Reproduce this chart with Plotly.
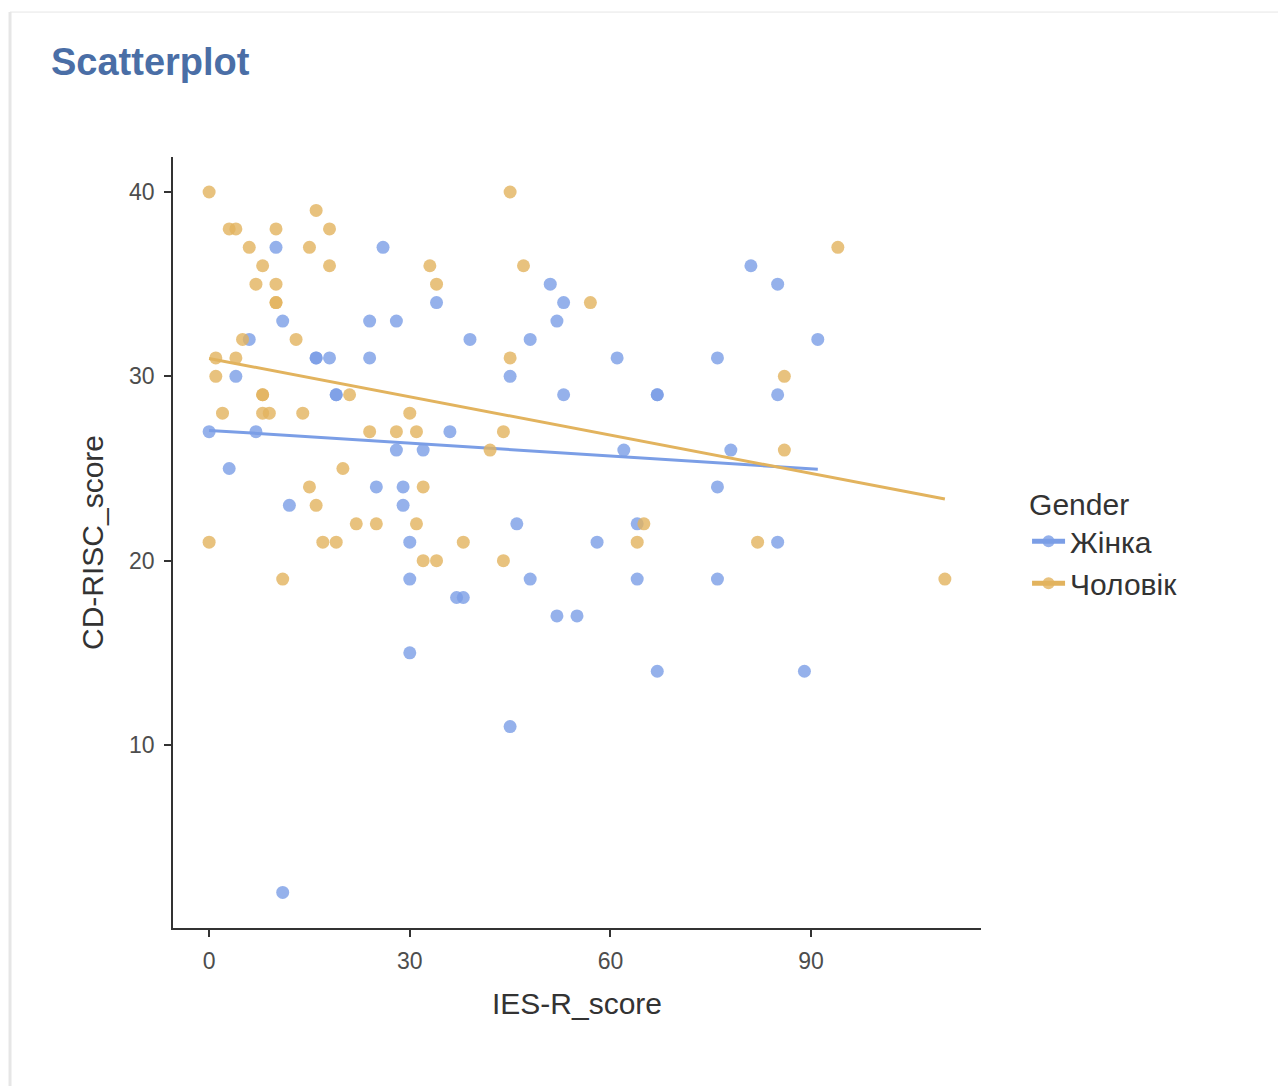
import numpy as np
import plotly.graph_objects as go

# Data
female_x = [0, 7, 10, 26, 11, 24, 28, 6, 16, 16, 18, 24, 4, 19, 19, 36, 28, 32, 3, 25, 29, 12, 29, 30, 30, 37, 38, 30, 11,
            51, 34, 53, 52, 39, 48, 61, 76, 45, 53, 67, 67, 62, 78, 76, 46, 64, 58, 48, 64, 76, 52, 55, 67, 45,
            81, 85, 91, 85, 85, 89]
female_y = [27, 27, 37, 37, 33, 33, 33, 32, 31, 31, 31, 31, 30, 29, 29, 27, 26, 26, 25, 24, 24, 23, 23, 21, 19, 18, 18, 15, 2,
            35, 34, 34, 33, 32, 32, 31, 31, 30, 29, 29, 29, 26, 26, 24, 22, 22, 21, 19, 19, 19, 17, 17, 14, 11,
            36, 35, 32, 29, 21, 14]

male_x = [0, 3, 4, 10, 16, 18, 6, 15, 8, 18, 7, 10, 10, 10, 5, 13, 1, 4, 1, 8, 8, 21, 2, 8, 9, 14, 30, 24, 28, 31, 44,
          20, 15, 32, 16, 22, 25, 31, 65, 0, 17, 19, 38, 64, 82, 32, 34, 44, 11, 110, 45, 47, 33, 34, 57, 45, 86, 86, 42, 94]
male_y = [40, 38, 38, 38, 39, 38, 37, 37, 36, 36, 35, 35, 34, 34, 32, 32, 31, 31, 30, 29, 29, 29, 28, 28, 28, 28, 28, 27, 27, 27, 27,
          25, 24, 24, 23, 22, 22, 22, 22, 21, 21, 21, 21, 21, 21, 20, 20, 20, 19, 19, 40, 36, 36, 35, 34, 31, 30, 26, 26, 37]

groups = ["Жінка", "Чоловік"]
colors = ["#7b9ee6", "#e2b35e"]
series = [(female_x, female_y), (male_x, male_y)]

x_ticks = [0, 30, 60, 90]
y_ticks = [10, 20, 30, 40]

FONT = "Liberation Sans, Arial, sans-serif"

fig = go.Figure()

for name, col, (xs, ys) in zip(groups, colors, series):
    xs = np.array(xs, dtype=float)
    ys = np.array(ys, dtype=float)
    fig.add_trace(go.Scatter(
        x=xs, y=ys, mode="markers", name=name, showlegend=False,
        marker=dict(color=col, size=13, opacity=0.8, line=dict(width=0)),
        hoverinfo="x+y"))
    slope, intercept = np.polyfit(xs, ys, 1)
    lx = np.array([xs.min(), xs.max()])
    fig.add_trace(go.Scatter(
        x=lx, y=slope * lx + intercept, mode="lines", showlegend=False,
        line=dict(color=col, width=3), hoverinfo="skip"))
    fig.add_trace(go.Scatter(
        x=[None], y=[None], mode="lines+markers", name=name,
        line=dict(color=col, width=3),
        marker=dict(color=col, size=10, opacity=0.8)))

axis_common = dict(
    showgrid=False, zeroline=False, showline=True, linecolor="#333333", linewidth=1.5,
    ticks="outside", ticklen=7, tickwidth=1.5, tickcolor="#333333",
    ticklabelstandoff=5,
    tickfont=dict(family=FONT, size=23, color="#4d4d4d"),
    title_font=dict(family=FONT, size=30, color="#333333"),
)

fig.update_layout(
    width=1286, height=1086,
    margin=dict(l=165, r=313, t=149, b=166),
    paper_bgcolor="white", plot_bgcolor="white",
    xaxis=dict(range=[-5.4, 115.4], tickvals=x_ticks, title_text="IES-R_score",
               title_standoff=20, **axis_common),
    yaxis=dict(range=[0.07, 41.9], tickvals=y_ticks, title_text="CD-RISC_score",
               title_standoff=17, **axis_common),
    legend=dict(
        x=1.057, y=0.586, xanchor="left", yanchor="top",
        title=dict(text="Gender", font=dict(family=FONT, size=30, color="#333333")),
        font=dict(family=FONT, size=30, color="#333333"),
        bgcolor="rgba(0,0,0,0)", itemsizing="constant", itemwidth=33, tracegroupgap=0,
    ),
    annotations=[dict(
        text="<b>Scatterplot</b>", xref="paper", yref="paper",
        x=-0.1535, y=1.123, xanchor="left", yanchor="middle", showarrow=False,
        font=dict(family=FONT, size=38, color="#4a6ea6"),
    )],
    shapes=[
        dict(type="line", xref="paper", yref="paper", x0=-0.2017, x1=1.40, y0=1.188, y1=1.188,
             line=dict(color="#e6e6e6", width=1)),
        dict(type="line", xref="paper", yref="paper", x0=-0.2017, x1=-0.2017, y0=1.188, y1=-0.22,
             line=dict(color="#e6e6e6", width=3)),
    ],
)

fig.write_html("out.html")
